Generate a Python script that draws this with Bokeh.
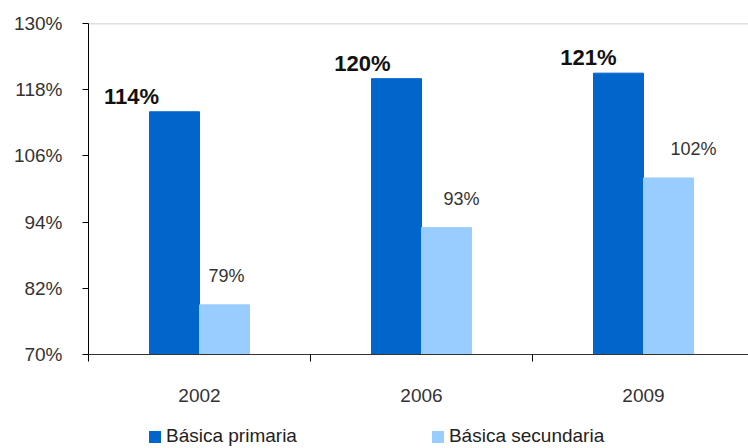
from bokeh.plotting import figure
from bokeh.models import (ColumnDataSource, Range1d, FixedTicker, Legend, LegendItem,
                          LabelSet)
from bokeh.layouts import column
from bokeh.core.properties import value
from bokeh.transform import dodge
from bokeh.embed import file_html
from bokeh.resources import INLINE

# ---- data ----
years = ["2002", "2006", "2009"]
primaria = [114, 120, 121]
secundaria = [79, 93, 102]
y_ticks = [70, 82, 94, 106, 118, 130]
series_names = ["Básica primaria", "Básica secundaria"]

# ---- label styling (pixel offsets) ----
prim_dx = [-43, -34, -30]
sec_dx = [2, 15, 25]

FONT = "Liberation Sans"
DARK = "#0066CC"
LIGHT = "#99CCFF"

xs = [i + 0.5 for i in range(len(years))]
src = ColumnDataSource(dict(
    x=xs,
    prim=primaria,
    sec=secundaria,
    prim_lbl=[f"{v}%" for v in primaria],
    sec_lbl=[f"{v}%" for v in secundaria],
    prim_dx=prim_dx,
    sec_dx=sec_dx,
))

p = figure(width=748, height=420, output_backend="svg", toolbar_location=None,
           x_range=Range1d(0, 2.973), y_range=Range1d(y_ticks[0], y_ticks[-1]),
           min_border_left=88, min_border_right=0, min_border_top=23,
           min_border_bottom=66)
p.xgrid.visible = False
p.ygrid.visible = False
p.outline_line_color = None

half = 0.1126
bw = 0.2252
r1 = p.vbar(x=dodge("x", -half, range=p.x_range), top="prim", bottom=y_ticks[0],
            width=bw, source=src, fill_color=DARK, line_color=DARK)
r2 = p.vbar(x=dodge("x", half, range=p.x_range), top="sec", bottom=y_ticks[0],
            width=bw, source=src, fill_color=LIGHT, line_color=LIGHT)

# top border line of plot area
p.hspan(y=[y_ticks[-1]], line_color="#BFBFBF", line_width=1.5)

lab1 = LabelSet(x=dodge("x", -half, range=p.x_range), y="prim", text="prim_lbl",
                source=src, x_offset="prim_dx", y_offset=3,
                text_align="center", text_baseline="bottom",
                text_font=value(FONT), text_font_size="22px", text_font_style="bold",
                text_color="#111111")
lab2 = LabelSet(x=dodge("x", half, range=p.x_range), y="sec", text="sec_lbl",
                source=src, x_offset="sec_dx", y_offset=19,
                text_align="center", text_baseline="bottom",
                text_font=value(FONT), text_font_size="18px", text_color="#333333")
p.add_layout(lab1)
p.add_layout(lab2)

# y axis
ya = p.yaxis[0]
ya.ticker = FixedTicker(ticks=y_ticks)
ya.major_label_overrides = {t: f"{t}%" for t in y_ticks}
ya.major_tick_in = 0
ya.major_tick_out = 6
ya.minor_tick_line_color = None
ya.axis_line_color = "#000000"
ya.major_tick_line_color = "#000000"
ya.major_label_text_font = FONT
ya.major_label_text_font_size = "19px"
ya.major_label_text_color = "#333333"
ya.major_label_standoff = 20

# x axis
xa = p.xaxis[0]
xa.ticker = FixedTicker(ticks=xs, minor_ticks=[0, 1, 2, 3])
xa.major_label_overrides = {x: y for x, y in zip(xs, years)}
xa.major_tick_in = 0
xa.major_tick_out = 0
xa.minor_tick_in = 0
xa.minor_tick_out = 7
xa.minor_tick_line_color = "#000000"
xa.axis_line_color = "#333333"
xa.major_label_text_font = FONT
xa.major_label_text_font_size = "19px"
xa.major_label_text_color = "#333333"
xa.major_label_standoff = 27

# ---- legend strip (its bars lie entirely outside its visible ranges) ----
lp = figure(width=748, height=28, output_backend="svg", toolbar_location=None,
            x_axis_location=None, y_axis_location=None,
            x_range=Range1d(-20, -10), y_range=Range1d(-20, -10),
            min_border=0, outline_line_color=None)
lp.xgrid.visible = False
lp.ygrid.visible = False
d1 = lp.vbar(x="x", top="prim", bottom=y_ticks[0], width=bw, source=src,
             fill_color=DARK, line_color=None)
d2 = lp.vbar(x="x", top="sec", bottom=y_ticks[0], width=bw, source=src,
             fill_color=LIGHT, line_color=None)
legend = Legend(items=[LegendItem(label=series_names[0], renderers=[d1]),
                       LegendItem(label=series_names[1], renderers=[d2])],
                orientation="horizontal", location=(59, 1),
                glyph_width=15, glyph_height=15, label_standoff=4, spacing=133,
                label_text_font=FONT, label_text_font_size="19px",
                label_text_color="#222222", border_line_color=None,
                background_fill_alpha=0, margin=0, padding=0)
lp.add_layout(legend, "center")

open("out.html", "w").write(file_html(column(p, lp, spacing=0), INLINE))
